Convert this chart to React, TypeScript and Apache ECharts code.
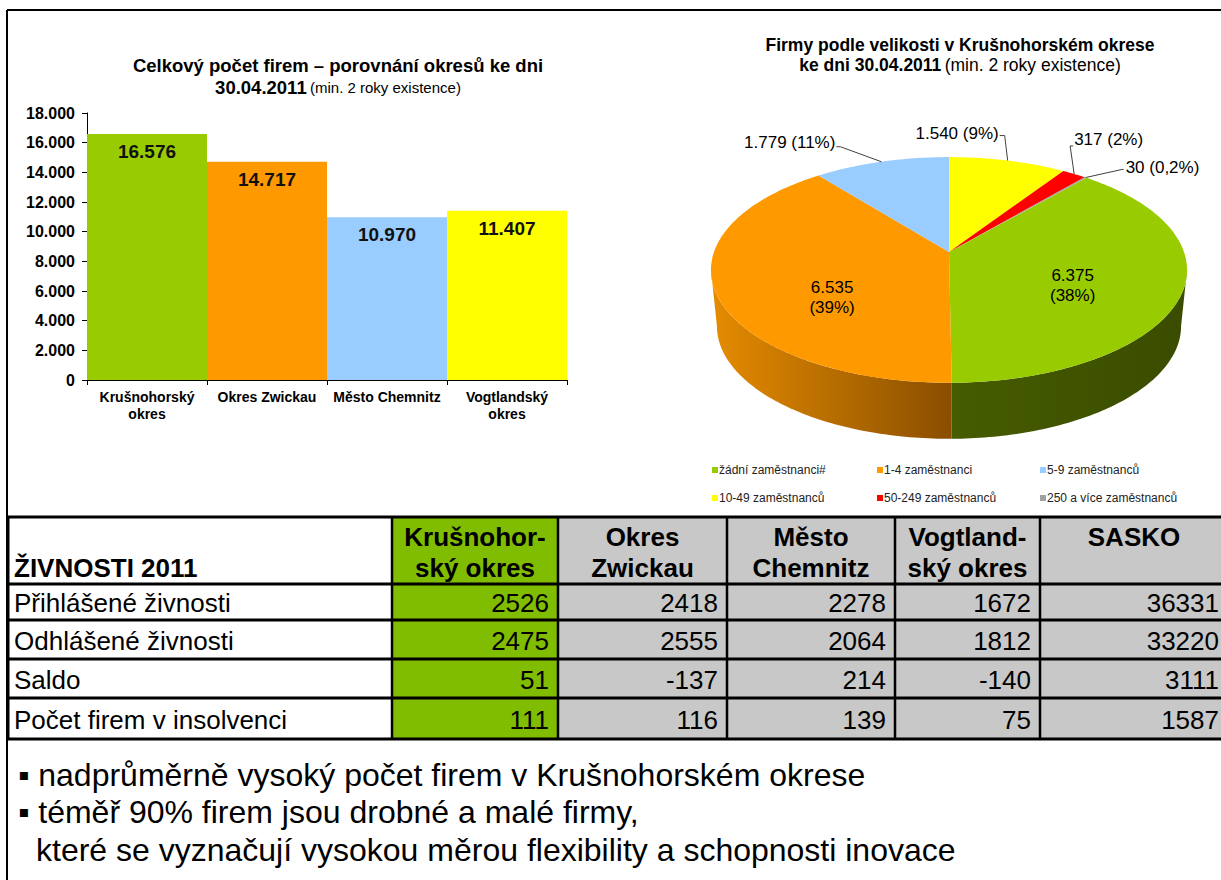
import React, { useEffect, useRef } from "react";
import * as echarts from "echarts";

// ---------- DATA ----------
const barCategories = ["Krušnohorský\nokres", "Okres Zwickau", "Město Chemnitz", "Vogtlandský\nokres"];
const barValues = [16576, 14717, 10970, 11407];
const barColors = ["#99CC00", "#FF9900", "#99CCFF", "#FFFF00"];
const yMin = 0;
const yMax = 18000;
const yStep = 2000;

const pieNames = ["žádní zaměstnanci#", "1-4 zaměstnanci", "5-9 zaměstnanců", "10-49 zaměstnanců", "50-249 zaměstnanců", "250 a více zaměstnanců"];
const pieValues = [6375, 6535, 1779, 1540, 317, 30];
const pieColors = ["#99CC00", "#FF9900", "#99CCFF", "#FFFF00", "#FF0000", "#A0A0A0"];
// clockwise from 12 o'clock
const pieOrder = [3, 4, 5, 0, 1, 2];

const tableTitle = "ŽIVNOSTI 2011";
const tableHeaders = ["Krušnohor-\nský okres", "Okres\nZwickau", "Město\nChemnitz", "Vogtland-\nský okres", "SASKO"];
const tableRows = ["Přihlášené živnosti", "Odhlášené živnosti", "Saldo", "Počet firem v insolvenci"];
const krusnohorsky = [2526, 2475, 51, 111];
const zwickau = [2418, 2555, -137, 116];
const chemnitz = [2278, 2064, 214, 139];
const vogtland = [1672, 1812, -140, 75];
const sasko = [36331, 33220, 3111, 1587];
const tableColumns = [krusnohorsky, zwickau, chemnitz, vogtland, sasko];

const bullets = [
  "▪ nadprůměrně vysoký počet firem v Krušnohorském okrese",
  "▪ téměř 90% firem jsou drobné a malé firmy,",
  "které se vyznačují vysokou měrou flexibility a schopnosti inovace",
];

// ---------- STYLE / LAYOUT ----------
const FF = '"Liberation Sans", Arial, Helvetica, sans-serif';
const fmt = (v: number) => String(v).replace(/\B(?=(\d{3})+(?!\d))/g, ".");

const PIE = { cx: 949, cy: 252, A: 235, B: 110, k: 0.159, depth: 56, bottomScale: 0.975 };
const TH_L = Math.acos(-PIE.k);
const TH_R = 2 * Math.PI - TH_L;
const sideColors: any = {
  0: ["#465C00", "#3A4C00"],
  1: ["#E58C00", "#8A4E00"],
};
const pieLabelLayout: any[] = [
  { inside: true, r: 0.53, dy: 12 },
  { inside: true, r: 0.5, dy: 26 },
  { elbow: [-41, -15], end: [-45, -15], text: [-46, -19], align: "right" },
  { elbow: [-3, -25], end: [-8, -25], text: [-9, -27], align: "right" },
  { elbow: [-4, -28], end: [-1, -28], text: [0, -34], align: "left" },
  { elbow: [36, -8], end: [38, -8], text: [40, -10], align: "left" },
];

const proj = (t: number) => {
  const s = Math.sin(t), c = Math.cos(t);
  const w = 1 + PIE.k * c;
  return [PIE.cx + (PIE.A * s) / w, PIE.cy - (PIE.B * c) / w];
};
const arc = (a0: number, a1: number) => {
  const n = Math.max(2, Math.ceil((a1 - a0) / (Math.PI / 180)) + 1);
  const pts: number[][] = [];
  for (let i = 0; i < n; i++) pts.push(proj(a0 + ((a1 - a0) * i) / (n - 1)));
  return pts;
};
const bottomPt = (p: number[]) => [PIE.cx + (p[0] - PIE.cx) * PIE.bottomScale, p[1] + PIE.depth];

const colX = [8, 392, 558, 727, 895, 1040, 1228];
const rowY = [517, 584, 620, 659, 698, 739];
const tableGreen = "#80BC00";
const tableGray = "#C8C8C8";

function buildOption() {
  const pieTotal = pieValues.reduce((a, b) => a + b, 0);

  const renderItem = (params: any, api: any) => {
    const j = params.dataIndex;
    const v = api.value(0);
    const idx = api.value(1);
    let before = 0;
    for (let t = 0; t < j; t++) before += pieValues[pieOrder[t]];
    const a0 = (before / pieTotal) * 2 * Math.PI;
    const a1 = ((before + v) / pieTotal) * 2 * Math.PI;
    const children: any[] = [];
    const lo = Math.max(a0, TH_L), hi = Math.min(a1, TH_R);
    if (hi > lo && sideColors[idx]) {
      const top = arc(lo, hi);
      const bot = top.map(bottomPt).reverse();
      children.push({
        type: "polygon",
        shape: { points: top.concat(bot) },
        style: {
          fill: new echarts.graphic.LinearGradient(0, 0, 1, 0, [
            { offset: 0, color: sideColors[idx][0] },
            { offset: 1, color: sideColors[idx][1] },
          ]),
        },
      });
    }
    children.push({
      type: "polygon",
      shape: { points: [[PIE.cx, PIE.cy]].concat(arc(a0, a1)) },
      style: { fill: pieColors[idx] },
    });
    const pct = (v / pieTotal) * 100;
    const ps = pct < 1 ? pct.toFixed(1).replace(".", ",") : String(Math.round(pct));
    const L = pieLabelLayout[idx];
    const mid = proj((a0 + a1) / 2);
    if (L.inside) {
      children.push({
        type: "text",
        x: PIE.cx + (mid[0] - PIE.cx) * L.r,
        y: PIE.cy + (mid[1] - PIE.cy) * L.r + L.dy,
        style: { text: fmt(v) + "\n(" + ps + "%)", fill: "#000", fontFamily: FF, fontSize: 17, lineHeight: 20, align: "center", verticalAlign: "middle" },
      });
    } else {
      children.push({
        type: "polyline",
        shape: { points: [mid, [mid[0] + L.elbow[0], mid[1] + L.elbow[1]], [mid[0] + L.end[0], mid[1] + L.end[1]]] },
        style: { stroke: "#404040", lineWidth: 1, fill: null },
      });
      children.push({
        type: "text",
        x: mid[0] + L.text[0],
        y: mid[1] + L.text[1],
        style: { text: fmt(v) + " (" + ps + "%)", fill: "#000", fontFamily: FF, fontSize: 17, align: L.align, verticalAlign: "middle" },
      });
    }
    return { type: "group", children };
  };

  const legendPos = [[707, 459], [872, 459], [1035, 459], [707, 487], [872, 487], [1035, 487]];
  const legends = pieNames.map((n, i) => ({
    data: [n],
    left: legendPos[i][0],
    top: legendPos[i][1],
    icon: "rect",
    itemWidth: 6,
    itemHeight: 6,
    selectedMode: false,
    textStyle: { fontFamily: FF, fontSize: 12, color: "#222", padding: [0, 0, 0, -4] },
  }));

  const g: any[] = [];
  // frame
  g.push({ type: "line", shape: { x1: 7, y1: 10, x2: 1221, y2: 10 }, style: { stroke: "#000", lineWidth: 2 } });
  g.push({ type: "line", shape: { x1: 7, y1: 10, x2: 7, y2: 880 }, style: { stroke: "#000", lineWidth: 2 } });
  // bar title
  g.push({ type: "text", x: 338, y: 65, style: { text: "Celkový počet firem – porovnání okresů ke dni", fontFamily: FF, fontWeight: "bold", fontSize: 18.5, fill: "#000", align: "center", verticalAlign: "middle" } });
  g.push({
    type: "text", x: 338, y: 87,
    style: {
      text: "{b|30.04.2011} {n|(min. 2 roky existence)}", align: "center", verticalAlign: "middle",
      rich: { b: { fontFamily: FF, fontWeight: "bold", fontSize: 18.5, color: "#000" }, n: { fontFamily: FF, fontSize: 15, color: "#000" } },
    },
  });
  // pie title
  g.push({ type: "text", x: 960, y: 45, style: { text: "Firmy podle velikosti v Krušnohorském okrese", fontFamily: FF, fontWeight: "bold", fontSize: 17.5, fill: "#000", align: "center", verticalAlign: "middle" } });
  g.push({
    type: "text", x: 960, y: 65,
    style: {
      text: "{b|ke dni 30.04.2011} {n|(min. 2 roky existence)}", align: "center", verticalAlign: "middle",
      rich: { b: { fontFamily: FF, fontWeight: "bold", fontSize: 17.5, color: "#000" }, n: { fontFamily: FF, fontSize: 17.5, color: "#000" } },
    },
  });

  // table cells
  for (let r = 0; r < rowY.length - 1; r++) {
    for (let c = 0; c < colX.length - 1; c++) {
      const fill = c === 0 ? "#FFFFFF" : c === 1 ? tableGreen : tableGray;
      g.push({ type: "rect", shape: { x: colX[c], y: rowY[r], width: colX[c + 1] - colX[c], height: rowY[r + 1] - rowY[r] }, style: { fill } });
    }
  }
  for (let r = 0; r < rowY.length; r++) {
    g.push({ type: "line", shape: { x1: 7, y1: rowY[r], x2: 1221, y2: rowY[r] }, style: { stroke: "#000", lineWidth: 3 } });
  }
  for (let c = 0; c < colX.length - 1; c++) {
    g.push({ type: "line", shape: { x1: colX[c], y1: rowY[0], x2: colX[c], y2: rowY[rowY.length - 1] }, style: { stroke: "#000", lineWidth: c === 0 ? 3 : 2.5 } });
  }
  g.push({ type: "text", x: 14, y: 568, style: { text: tableTitle, fontFamily: FF, fontWeight: "bold", fontSize: 26, fill: "#000", align: "left", verticalAlign: "middle" } });
  tableHeaders.forEach((h, c) => {
    g.push({ type: "text", x: (colX[c + 1] + colX[c + 2]) / 2, y: 521, style: { text: h, fontFamily: FF, fontWeight: "bold", fontSize: 26, lineHeight: 31, fill: "#000", align: "center", verticalAlign: "top" } });
  });
  tableRows.forEach((name, r) => {
    const cy = (rowY[r + 1] + rowY[r + 2]) / 2 + 1;
    g.push({ type: "text", x: 14, y: cy, style: { text: name, fontFamily: FF, fontSize: 26, fill: "#000", align: "left", verticalAlign: "middle" } });
    tableColumns.forEach((col, c) => {
      g.push({ type: "text", x: colX[c + 2] - 9, y: cy, style: { text: String(col[r]), fontFamily: FF, fontSize: 26, fill: "#000", align: "right", verticalAlign: "middle" } });
    });
  });
  // bullets
  const bx = [18, 18, 36];
  const by = [775, 812, 850];
  bullets.forEach((t, i) => {
    g.push({ type: "text", x: bx[i], y: by[i], style: { text: t, fontFamily: FF, fontSize: 32, fill: "#000", align: "left", verticalAlign: "middle" } });
  });

  return {
    animation: false,
    backgroundColor: "#FFFFFF",
    textStyle: { fontFamily: FF },
    grid: { left: 87, top: 113, width: 480, height: 267, containLabel: false },
    xAxis: {
      type: "category",
      data: barCategories,
      axisLine: { lineStyle: { color: "#000", width: 1 } },
      axisTick: { show: true, length: 5, lineStyle: { color: "#000" } },
      axisLabel: { interval: 0, color: "#000", fontWeight: "bold", fontSize: 14, lineHeight: 17, margin: 8, fontFamily: FF },
    },
    yAxis: {
      type: "value",
      min: yMin,
      max: yMax,
      interval: yStep,
      axisLine: { show: true, lineStyle: { color: "#000" } },
      axisTick: { show: true, length: 5, lineStyle: { color: "#000" } },
      splitLine: { show: false },
      axisLabel: { color: "#000", fontWeight: "bold", fontSize: 16, margin: 12, fontFamily: FF, formatter: (v: number) => fmt(v) },
    },
    legend: legends,
    series: [
      {
        type: "bar",
        data: barValues.map((v, i) => ({ value: v, itemStyle: { color: barColors[i] } })),
        barCategoryGap: "0%",
        label: { show: true, position: "insideTop", distance: 8, fontSize: 19, fontWeight: "bold", color: "#111", fontFamily: FF, formatter: (p: any) => fmt(p.value) },
      },
      {
        type: "pie",
        name: "legendPie",
        radius: [0, 0],
        center: [-50, -50],
        silent: true,
        label: { show: false },
        labelLine: { show: false },
        data: pieNames.map((n, i) => ({ name: n, value: pieValues[i], itemStyle: { color: pieColors[i] } })),
      },
      {
        type: "custom",
        name: "pie3d",
        coordinateSystem: "none",
        silent: true,
        data: pieOrder.map((i) => [pieValues[i], i]),
        renderItem,
      },
    ],
    graphic: g,
  };
}

export default function App() {
  const ref = useRef<HTMLDivElement>(null);
  useEffect(() => {
    const chart = echarts.init(ref.current as HTMLDivElement, null, { renderer: "svg", width: 1221, height: 880 });
    chart.setOption(buildOption() as any);
    return () => chart.dispose();
  }, []);
  return <div ref={ref} style={{ position: "absolute", left: 0, top: 0, width: 1221, height: 880, background: "#fff" }} />;
}
